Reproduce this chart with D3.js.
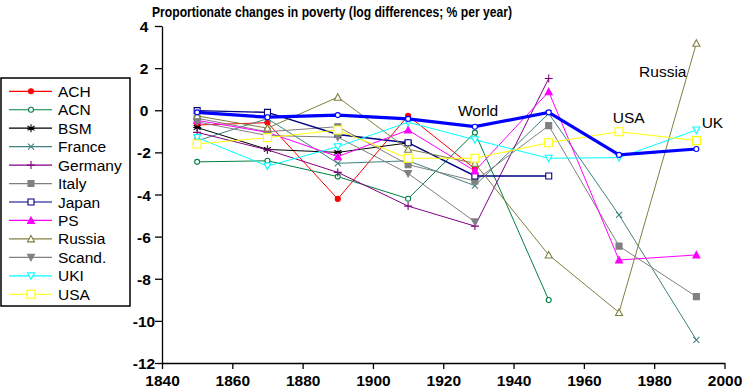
<!DOCTYPE html>
<html><head><meta charset="utf-8">
<script src="https://cdn.jsdelivr.net/npm/d3@7"></script>
<style>
body{margin:0;background:#fff;}
svg{display:block;font-family:"Liberation Sans",Arial,sans-serif;}
</style></head>
<body><svg id="c" width="742" height="391"></svg>
<script>
const years = [1850,1870,1890,1910,1929,1950,1970,1992];
const ACH     = [-0.70,-0.59,-4.21,-0.26,-2.78,null,null,null];
const ACN     = [-2.45,-2.40,-3.15,-4.20,-1.06,-9.01,null,null];
const BSM     = [-0.82,-1.86,-2.00,-1.55,null,null,null,null];
const France  = [-1.45,-0.40,-2.52,-2.40,-3.58,-0.15,-4.97,-10.90];
const Germany = [-1.05,-1.88,-2.95,-4.55,-5.50,1.51,null,null];
const Italy   = [-0.38,-1.02,-0.78,-2.58,-3.36,-0.73,-6.45,-8.85];
const Japan   = [-0.02,-0.10,-1.15,-1.54,-3.12,-3.12,null,null];
const PS      = [-0.48,-1.05,-2.20,-0.94,-2.88,0.88,-7.11,-6.87];
const Russia  = [-0.27,-0.85,0.62,-1.85,-2.52,-6.87,-9.60,3.18];
const Scand   = [-0.55,-1.20,-1.28,-3.00,-5.30,null,null,null];
const UKI     = [-1.30,-2.65,-1.73,-0.57,-1.40,-2.28,-2.25,-0.94];
const USA     = [-1.60,-1.30,-0.94,-2.28,-2.28,-1.54,-1.02,-1.44];
const World   = [-0.10,-0.33,-0.23,-0.41,-0.78,-0.10,-2.12,-1.84];
const yTicks = [-12,-10,-8,-6,-4,-2,0,2,4];
const xTicks = [1840,1860,1880,1900,1920,1940,1960,1980,2000];
const title = "Proportionate changes in poverty (log differences; % per year)";
const annotations = [
  {text:"World", year:1924.2, value:-0.27},
  {text:"USA", year:1968.2, value:-0.60},
  {text:"UK", year:1993.5, value:-0.83},
  {text:"Russia", year:1975.7, value:1.58}
];

const series = [
  {name:"ACH", data:ACH, color:"#FF0000", marker:"circle", fill:true},
  {name:"ACN", data:ACN, color:"#008040", marker:"circle", fill:false},
  {name:"BSM", data:BSM, color:"#000000", marker:"star", fill:false},
  {name:"France", data:France, color:"#408080", marker:"x", fill:false},
  {name:"Germany", data:Germany, color:"#800080", marker:"plus", fill:false},
  {name:"Italy", data:Italy, color:"#808080", marker:"square", fill:true},
  {name:"Japan", data:Japan, color:"#000080", marker:"square", fill:false, width:1.4},
  {name:"PS", data:PS, color:"#FF00FF", marker:"tri", fill:true},
  {name:"Russia", data:Russia, color:"#808040", marker:"tri", fill:false},
  {name:"Scand.", data:Scand, color:"#808080", marker:"tridown", fill:true},
  {name:"UKI", data:UKI, color:"#00FFFF", marker:"tridown", fill:false},
  {name:"USA", data:USA, color:"#FFFF00", marker:"bigsquare", fill:false}
];

const svg = d3.select("#c");
const x = d3.scaleLinear().domain([1840,2000]).range([162,724.5]);
const y = d3.scaleLinear().domain([-12,4]).range([363,26]);

function markerPath(type){
  switch(type){
    case "circle": return `M-2.5,0a2.5,2.5 0 1,0 5,0a2.5,2.5 0 1,0 -5,0Z`;
    case "square": return `M-3,-3H3V3H-3Z`;
    case "bigsquare": return `M-4,-4H4V4H-4Z`;
    case "tri": return `M0,-3.5L3.5,3H-3.5Z`;
    case "tridown": return `M0,3.5L3.5,-3H-3.5Z`;
    case "x": return `M-3,-3L3,3M3,-3L-3,3`;
    case "plus": return `M0,-4V4M-4,0H4`;
    case "star": return `M0,-4V4M-3.5,-2.2L3.5,2.2M3.5,-2.2L-3.5,2.2M-4,0H4`;
  }
}
const lineOnly = t => ["x","plus","star"].includes(t);

// title
svg.append("text").attr("x",152).attr("y",16.5)
  .attr("font-size",14).attr("font-weight","bold")
  .attr("textLength",360).attr("lengthAdjust","spacingAndGlyphs")
  .text(title);

// axes
const gy = svg.append("g").attr("transform","translate(162,0)")
  .call(d3.axisLeft(y).tickValues(yTicks).tickSize(7).tickSizeOuter(0).tickFormat(d=>String(d)));
const gx = svg.append("g").attr("transform","translate(0,363)")
  .call(d3.axisBottom(x).tickValues(xTicks).tickSize(6).tickSizeOuter(0).tickFormat(d=>String(d)));
[gy,gx].forEach(g=>{
  g.select(".domain").attr("stroke","#000").attr("stroke-width",1.3);
  g.selectAll(".tick line").attr("stroke","#000").attr("stroke-width",1.3);
  g.selectAll("text").attr("font-family","'Liberation Sans',Arial,sans-serif")
    .attr("font-size",15.5).attr("font-weight","bold").attr("fill","#000");
});
gy.selectAll("text").attr("text-anchor","middle").attr("x",-18).attr("dy","0.36em");
gx.selectAll("text").attr("y",11).attr("dy","0.76em");

// lines
const plot = svg.append("g");
function drawSeries(s, w, mk){
  const pts = years.map((yr,i)=>({yr, v:s.data[i]})).filter(d=>d.v!==null);
  const line = d3.line().x(d=>x(d.yr)).y(d=>y(d.v));
  plot.append("path").attr("d",line(pts)).attr("fill","none")
    .attr("stroke",s.color).attr("stroke-width",w);
  plot.selectAll(null).data(pts).enter().append("path")
    .attr("transform",d=>`translate(${x(d.yr)},${y(d.v)})`)
    .attr("d",markerPath(mk))
    .attr("fill", lineOnly(mk)?"none":(s.fill?s.color:"#fff"))
    .attr("stroke",s.color).attr("stroke-width",1.1);
}
series.forEach(s=>drawSeries(s, s.width||1, s.marker));
drawSeries({name:"World", data:World, color:"#0000FF", fill:false}, 3.2, "circle");

// annotations
svg.selectAll(null).data(annotations).enter().append("text")
  .attr("x",d=>x(d.year)).attr("y",d=>y(d.value))
  .attr("font-size",15.5).attr("fill","#000").text(d=>d.text);

// legend
const lg = svg.append("g");
lg.append("rect").attr("x",1).attr("y",78).attr("width",129).attr("height",228)
  .attr("fill","#fff").attr("stroke","#000").attr("stroke-width",1.5);
series.forEach((s,i)=>{
  const cy = 91.3 + i*18.45;
  lg.append("line").attr("x1",9).attr("x2",52).attr("y1",cy).attr("y2",cy)
    .attr("stroke",s.color).attr("stroke-width",1.2);
  lg.append("path").attr("transform",`translate(31,${cy})`).attr("d",markerPath(s.marker))
    .attr("fill", lineOnly(s.marker)?"none":(s.fill?s.color:"#fff"))
    .attr("stroke",s.color).attr("stroke-width",1.1);
  lg.append("text").attr("x",58).attr("y",cy+5.5).attr("font-size",15.5).attr("fill","#000").text(s.name);
});
</script></body></html>
